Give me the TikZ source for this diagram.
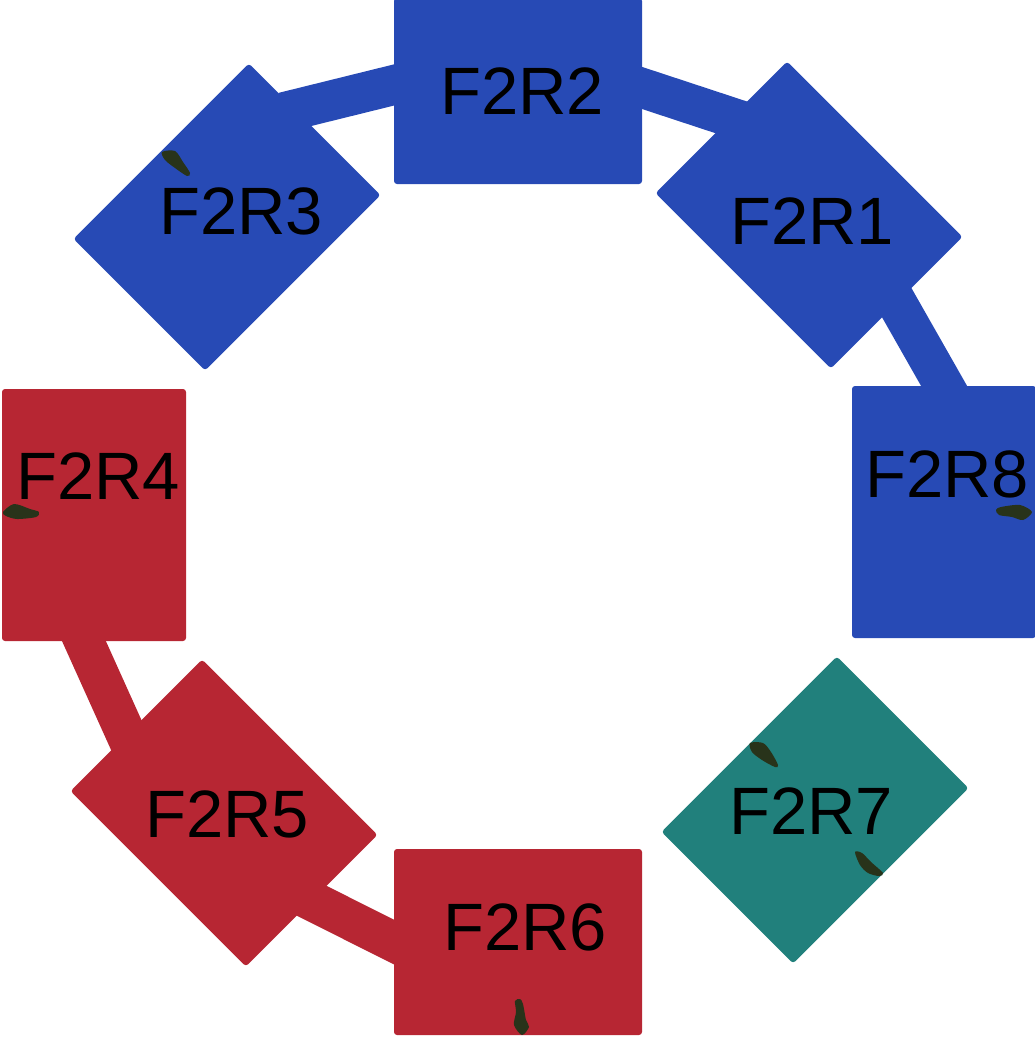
\documentclass[tikz,border=0pt]{standalone}
\usepackage{fontspec}
\setmainfont{Liberation Sans}
\usetikzlibrary{calc}
\definecolor{Blue}{HTML}{274AB5}
\definecolor{Red}{HTML}{B72633}
\definecolor{Teal}{HTML}{21807C}
\definecolor{Leaf}{HTML}{28331A}

\begin{document}
\begin{tikzpicture}[
      x=1pt,y=-1pt,
      room/.style={fill=#1,rounded corners=3pt,inner sep=0pt,
        minimum width=248pt,minimum height=186pt},
      tall/.style={room=#1,minimum width=184pt,minimum height=252pt},
      link/.style={draw=#1,line width=40pt,shorten <=-12pt,shorten >=-12pt},
      tag/.style={inner sep=0pt,font=\fontsize{67}{67}\selectfont},
      leaf/.style={fill=Leaf}
    ]
      \useasboundingbox (0,0) rectangle (1035,1039);
      \node[room=Blue] (f2r2) at (518,91) {};
      \node[room=Blue,rotate=-45] (f2r1) at (809,215) {};
      \node[tall=Blue] (f2r8) at (944,512) {};
      \node[room=Teal,rotate=45] (f2r7) at (815,810) {};
      \node[room=Red] (f2r6) at (518,942) {};
      \node[room=Red,rotate=-45] (f2r5) at (224,813) {};
      \node[tall=Red] (f2r4) at (94,515) {};
      \node[room=Blue,rotate=45] (f2r3) at (227,217) {};
      \draw[link=Blue] ($(f2r3.east)!0.3!(f2r3.north east)$) -- ([yshift=6pt]f2r2.west);
      \draw[link=Blue] ([yshift=3pt]f2r2.east) -- ($(f2r1.west)!0.15!(f2r1.north west)$);
      \draw[link=Blue] (f2r1.east) -- (f2r8.north);
      \draw[link=Red] ([xshift=-10pt]f2r4.south) -- ($(f2r5.west)!0.15!(f2r5.south west)$);
      \draw[link=Red] (f2r5.east) -- (f2r6.west);
      \node[tag] (t2) at (522,91) {F2R2};
      \node[tag] (t1) at (812,221) {F2R1};
      \node[tag] (t8) at (947,474) {F2R8};
      \node[tag] (t7) at (811,811) {F2R7};
      \node[tag] (t6) at (525,927) {F2R6};
      \node[tag] (t5) at (227,814) {F2R5};
      \node[tag] (t4) at (98,476) {F2R4};
      \node[tag] (t3) at (241,211) {F2R3};
      \fill[leaf] plot[smooth cycle] coordinates {(162,152) (175,151) (183,162) (190,173) (187,176) (175,168) (165,160)};
      \fill[leaf] plot[smooth cycle] coordinates {(750,743) (763,743) (771,752) (778,765) (775,767) (762,760) (752,752)};
      \fill[leaf] plot[smooth cycle] coordinates {(855,852) (862,853) (871,862) (883,873) (879,876) (868,873) (860,865)};
      \fill[leaf] plot[smooth cycle] coordinates {(996,510) (1001,507) (1020,505) (1032,512) (1023,520) (1012,517) (999,515)};
      \fill[leaf] plot[smooth cycle] coordinates {(3,512) (14,504) (30,509) (39,512) (36,517) (17,519) (6,516)};
      \fill[leaf] plot[smooth cycle] coordinates {(515,1001) (520,999) (523,1004) (526,1020) (529,1027) (522,1035) (514,1025) (516,1012)};
    \end{tikzpicture}
\end{document}
